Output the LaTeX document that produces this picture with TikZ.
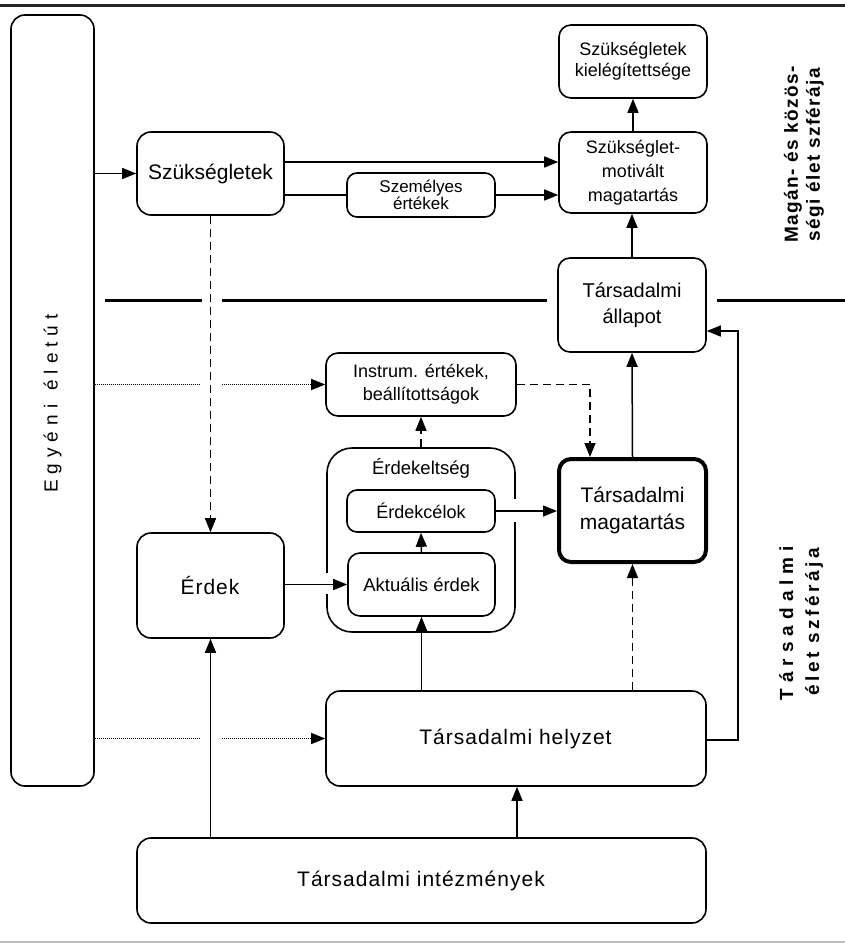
\documentclass[tikz,border=0pt]{standalone}
\usepackage{fontspec}
\setmainfont{Liberation Sans}
\usetikzlibrary{arrows.meta,calc}
\newcommand\LSend{}
\newcommand\LS[2]{\begingroup\def\lskern{#1}\LSi#2\LSend\endgroup}
\def\LSi#1{\ifx#1\LSend\else#1\kern\lskern\relax\expandafter\LSi\fi}
\tikzset{
  bx/.style={draw, line width=1.6pt, rounded corners=12pt, align=center, inner sep=0pt},
  arr/.style={line width=1.5pt, -{Triangle[length=14pt,width=11pt]}},
  plain/.style={line width=1.5pt},
  dsh/.style={dash pattern=on 8pt off 5pt},
  dtt/.style={line width=1.2pt, dash pattern=on 1pt off 1pt},
  divider/.style={line width=3pt},
}
\begin{document}
\begin{tikzpicture}[x=1pt,y=-1pt]
\useasboundingbox (0,0) rectangle (845,943);
\draw[line width=3pt, black!85] (0,5) -- (845,5);
\draw[line width=1.5pt, black!25] (0,942) -- (845,942);

% left column
\node[bx, rounded corners=14pt, minimum width=83pt, minimum height=771pt] (eg) at (52.5,400.5) {};
\node[rotate=90, font=\fontsize{19}{22}\selectfont] (egt) at (eg.center) {\LS{6pt}{Egyéni}\hspace{8pt}\LS{6pt}{életút}};

% divider
\draw[divider] (105,300) -- (202,300);
\draw[divider] (222,300) -- (547,300);
\draw[divider] (717,300) -- (845,300);

% nodes
\node[bx, rounded corners=14pt, minimum width=147pt, minimum height=83pt, font=\fontsize{21}{24}\selectfont] (szuk) at (210.5,173.5) {Szükségletek};
\node[bx, rounded corners=10pt, minimum width=148pt, minimum height=44pt, font=\fontsize{17}{17}\selectfont] (szem) at (421,195) {Személyes\\értékek};
\node[bx, minimum width=148pt, minimum height=81pt, font=\fontsize{18}{24}\selectfont] (motiv) at (633,172.5) {Szükséglet-\\motivált\\magatartás};
\node[bx, minimum width=148pt, minimum height=73pt, font=\fontsize{18}{21}\selectfont] (kiel) at (633,61.5) {Szükségletek\\kielégítettsége};
\node[bx, minimum width=148pt, minimum height=94pt, font=\fontsize{20}{26}\selectfont] (allap) at (632,305) {Társadalmi\\állapot};
\node[bx, minimum width=190pt, minimum height=63pt, font=\fontsize{18}{23}\selectfont] (instr) at (421,384.5) {Instrum. értékek,\\beállítottságok};
\node[bx, line width=4pt, minimum width=147pt, minimum height=103pt, font=\fontsize{21}{27}\selectfont] (magat) at (632.5,510.5) {Társadalmi\\magatartás};

\node[bx, rounded corners=25pt, minimum width=188pt, minimum height=184pt] (erdk) at (421,540) {};
\fill[white] (510,499) rectangle (520,522);
\fill[white] (322,573) rectangle (332,594);
\node[font=\fontsize{18.5}{22}\selectfont] (erdkl) at (421,468) {Érdekeltség};
\node[bx, rounded corners=10pt, minimum width=148pt, minimum height=42pt, font=\fontsize{18}{22}\selectfont] (celok) at (421,511) {Érdekcélok};
\node[bx, minimum width=147pt, minimum height=63pt, font=\fontsize{18.5}{22}\selectfont] (aktual) at (421.5,584.5) {Aktuális érdek};
\node[bx, rounded corners=14pt, minimum width=147pt, minimum height=105pt, font=\fontsize{21}{25}\selectfont] (erdek) at (210.5,585.5) {\LS{1pt}{Érdek}};
\node[bx, rounded corners=14pt, minimum width=380pt, minimum height=95pt, font=\fontsize{21}{25}\selectfont] (helyz) at (516,738.5) {\LS{1pt}{Társadalmi} \LS{1pt}{helyzet}};
\node[bx, rounded corners=14pt, minimum width=569pt, minimum height=85pt, font=\fontsize{21}{25}\selectfont] (intez) at (421.5,880.5) {\LS{1pt}{Társadalmi} \LS{1pt}{intézmények}};

% side labels
\node[rotate=90, align=center, font=\bfseries\fontsize{19}{22}\selectfont] (lab1) at (804,154) {\LS{1.4pt}{Magán-} \LS{1.4pt}{és} \LS{1.4pt}{közös-}\\\LS{1.4pt}{ségi} \LS{1.4pt}{élet} \LS{1.4pt}{szférája}};
\node[rotate=90, align=center, font=\bfseries\fontsize{19}{26}\selectfont] (lab2) at (801,620) {\LS{6pt}{Társadalmi}\\\LS{3.5pt}{élet} \LS{3.5pt}{szférája}};

% connectors
\coordinate (dk) at (590,384.5);
\coordinate (rt) at (738,740);
\draw[arr] (eg.east |- szuk.west) -- (szuk.west);
\draw[arr] (szuk.east |- 0,162) -- (motiv.west |- 0,162);
\draw[plain] (szuk.east |- szem.west) -- (szem.west);
\draw[arr] (szem.east) -- (motiv.west |- szem.east);
\draw[arr] (motiv.north) -- (kiel.south);
\draw[arr] (allap.north) -- (allap.north |- motiv.south);
\draw[arr] (magat.north) -- (allap.south);
\draw[arr, dsh] (szuk.south) -- (erdek.north);
\draw[dtt] (eg.east |- instr.west) -- (200,384.5);
\draw[arr, dtt] (222,384.5) -- (instr.west);
\draw[arr, dsh] (instr.east) -- (dk) -- (dk |- magat.north);
\draw[arr, dsh] (erdk.north) -- (instr.south);
\draw[arr] (celok.east) -- (magat.west |- celok.east);
\draw[arr] (aktual.north) -- (celok.south);
\draw[arr] (erdek.east |- aktual.west) -- (aktual.west);
\draw[arr] (aktual.south |- helyz.north) -- (aktual.south);
\draw[arr, dsh] (magat.south |- helyz.north) -- (magat.south);
\draw[arr] (helyz.east |- rt) -- (rt) -- (rt |- 0,331) -- (allap.east |- 0,331);
\draw[dtt] (eg.east |- helyz.west) -- (200,738.5);
\draw[arr, dtt] (222,738.5) -- (helyz.west);
\draw[arr] (intez.north -| erdek.south) -- (erdek.south);
\draw[arr] (intez.north -| 517,0) -- (helyz.south -| 517,0);
\end{tikzpicture}
\end{document}
